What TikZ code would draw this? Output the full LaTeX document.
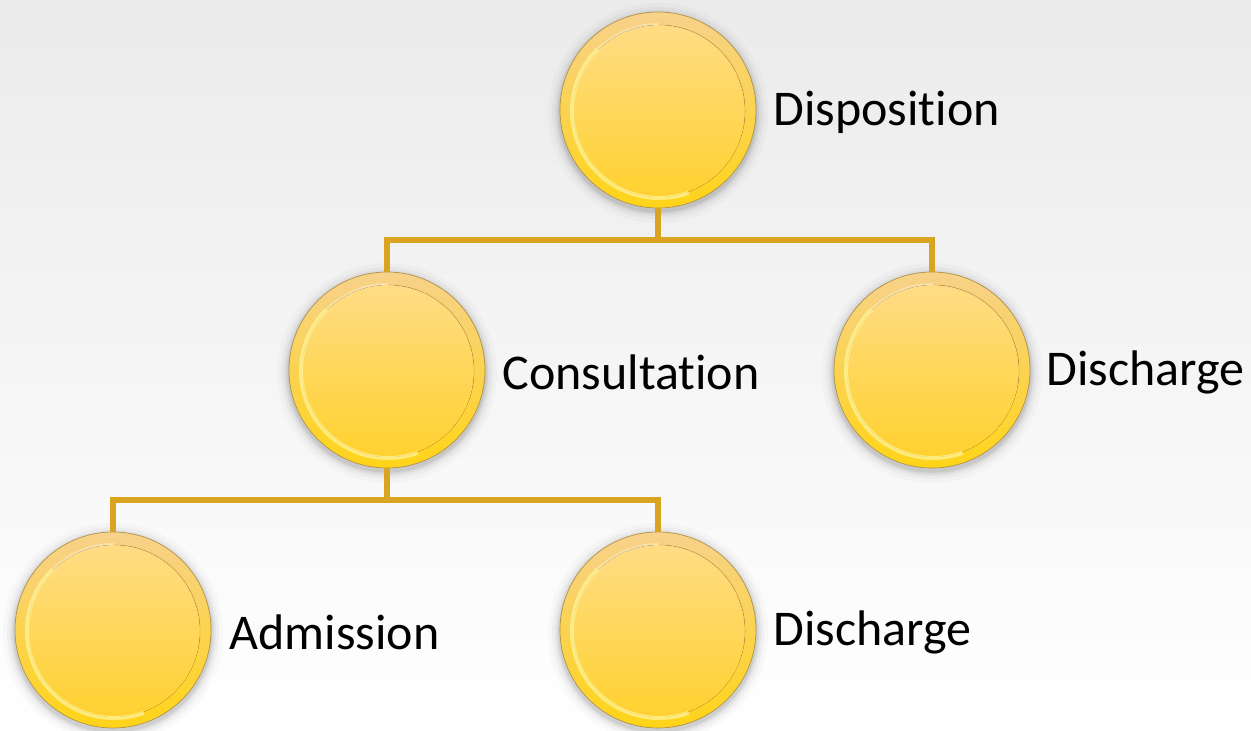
\documentclass[tikz,border=0pt]{standalone}
\usepackage{fontspec}
\setmainfont{Carlito}[Ligatures=NoCommon]
\usetikzlibrary{calc}
\definecolor{bgtop}{HTML}{EBEBEB}
\definecolor{bgbot}{HTML}{FFFFFF}
\definecolor{linegold}{HTML}{D9A520}
\definecolor{ringtop}{HTML}{F7D28A}
\definecolor{ringbot}{HTML}{FFD418}
\definecolor{disctop}{HTML}{FFDD8C}
\definecolor{discmid}{HTML}{FFD75A}
\definecolor{discbot}{HTML}{FFD02A}
\definecolor{rimedge}{HTML}{B0924A}
\definecolor{glow}{HTML}{FFF49A}
\tikzset{
  ball/.style={circle, minimum size=196pt, inner sep=0pt,
    top color=ringtop, bottom color=ringbot, draw=rimedge, line width=0.7pt,
    path picture={
      \fill[top color=disctop, bottom color=discbot, middle color=discmid]
        ($(path picture bounding box.center)+(1,-1)$) circle (86pt);
      \draw[glow, opacity=0.75, line width=4pt]
        ($(path picture bounding box.center)+(1,-1)+(135:87pt)$) arc (135:290:87pt);
      \draw[white, opacity=0.35, line width=2pt]
        ($(path picture bounding box.center)+(1,-1)+(90:87pt)$) arc (90:135:87pt);
      \draw[brown, opacity=0.18, line width=1.2pt]
        ($(path picture bounding box.center)+(1,-1)+(-10:86pt)$) arc (-10:90:86pt);
    }},
  lab/.style={anchor=west, inner sep=0pt, font=\fontsize{50}{60}\selectfont, text=black},
  conn/.style={draw=linegold, line width=6pt}
}
\newcommand{\ballshadow}[1]{%
  \foreach \r/\o in {110/0.02,106/0.03,103/0.04,101/0.05,99.5/0.06}{
    \fill[black, opacity=\o] ($(#1)+(0,-3)$) circle (\r pt);
  }}
\begin{document}
\begin{tikzpicture}[x=1pt,y=1pt]
\useasboundingbox (0,0) rectangle (1251,731);
\shade[top color=bgtop, bottom color=bgbot] (0,0) rectangle (1251,731);
\coordinate (pdisp) at (658,621);
\coordinate (pcons) at (387,361);
\coordinate (pdis1) at (932,361);
\coordinate (padm) at (113,101);
\coordinate (pdis2) at (658,101);
\begin{scope}
\clip (0,0) rectangle (1251,731);
\ballshadow{pdisp}
\ballshadow{pcons}
\ballshadow{pdis1}
\ballshadow{padm}
\ballshadow{pdis2}
\end{scope}
\node[ball] (disp) at (pdisp) {};
\node[ball] (cons) at (pcons) {};
\node[ball] (dis1) at (pdis1) {};
\node[ball] (adm) at (padm) {};
\node[ball] (dis2) at (pdis2) {};
\draw[conn] (disp.south) -- ++(0,-32) coordinate (j1) -| (cons.north);
\draw[conn] (j1) -| (dis1.north);
\draw[conn] (cons.south) -- ++(0,-32) coordinate (j2) -| (adm.north);
\draw[conn] (j2) -| (dis2.north);
\node[lab] (tdisp) at ($(disp.east)+(17,-2)$) {Disposition};
\node[lab] (tcons) at ($(cons.east)+(17,-2)$) {Consultation};
\node[lab] (tdis1) at ($(dis1.east)+(16,-2)$) {Discharge};
\node[lab] (tadm) at ($(adm.east)+(18,-2)$) {Admission};
\node[lab] (tdis2) at ($(dis2.east)+(17,-2)$) {Discharge};
\end{tikzpicture}
\end{document}
